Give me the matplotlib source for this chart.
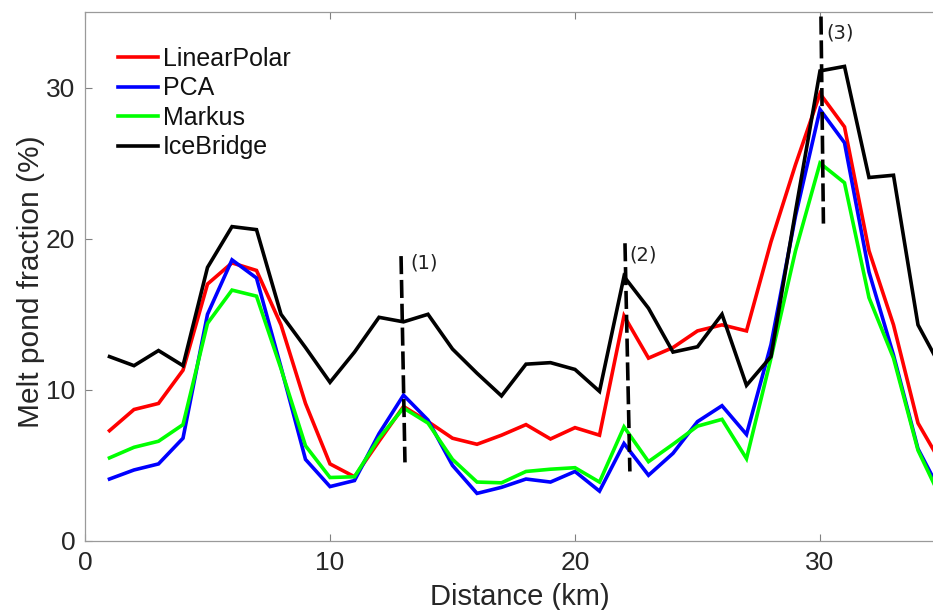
import numpy as np
import matplotlib
matplotlib.use('Agg')
import matplotlib.pyplot as plt

# Distance along the track (km)
distance = list(range(1, 36))

linear_polar = [7.3, 8.7, 9.1, 11.3, 17.0, 18.4, 17.9, 14.3, 9.1, 5.1,
                4.25, 6.6, 8.9, 7.9, 6.8, 6.4, 7.0, 7.7, 6.75, 7.5,
                7.0, 14.9, 12.1, 12.8, 13.9, 14.3, 13.9, 19.8, 24.9, 29.6,
                27.4, 19.2, 14.3, 7.8, 5.0]
pca = [4.1, 4.7, 5.1, 6.8, 15.0, 18.6, 17.4, 11.5, 5.4, 3.6,
       4.0, 7.1, 9.65, 8.0, 5.0, 3.15, 3.55, 4.1, 3.9, 4.6,
       3.3, 6.45, 4.35, 5.8, 7.9, 8.95, 7.05, 13.0, 21.5, 28.55,
       26.35, 17.8, 12.3, 6.1, 3.0]
markus = [5.5, 6.2, 6.6, 7.7, 14.4, 16.6, 16.2, 11.4, 6.3, 4.2,
          4.25, 6.8, 8.8, 7.8, 5.4, 3.9, 3.85, 4.6, 4.75, 4.85,
          3.9, 7.55, 5.25, 6.4, 7.6, 8.05, 5.45, 12.1, 19.2, 25.0,
          23.7, 16.1, 12.1, 6.0, 2.6]
icebridge = [12.2, 11.6, 12.6, 11.6, 18.1, 20.8, 20.6, 15.0, 12.8, 10.5,
             12.5, 14.8, 14.5, 15.0, 12.7, 11.1, 9.6, 11.7, 11.8, 11.35,
             9.9, 17.5, 15.4, 12.5, 12.85, 15.0, 10.3, 12.2, 21.8, 31.1,
             31.4, 24.05, 24.2, 14.3, 11.3]

series_names = ['LinearPolar', 'PCA', 'Markus', 'IceBridge']
series_colors = ['#ff0000', '#0000ff', '#00ff00', '#000000']

# marked events: (x top, x bottom), (y top, y bottom), label
event_labels = ['(1)', '(2)', '(3)']
event_x = [(12.9, 13.06), (22.04, 22.24), (30.04, 30.14)]
event_y = [(18.85, 5.2), (19.7, 4.6), (34.7, 21.0)]
event_text_pos = [(13.3, 18.4), (22.2, 18.9), (30.25, 33.6)]

x_ticks = [0, 10, 20, 30]
y_ticks = [0, 10, 20, 30]

W, H = 933, 610
fig = plt.figure(figsize=(W / 100, H / 100), dpi=100)
ax_left, ax_right, ax_bottom, ax_top = 85, 942.5, 541, 12
ax = fig.add_axes([ax_left / W, 1 - ax_bottom / H,
                   (ax_right - ax_left) / W, (ax_bottom - ax_top) / H])

font = 'Liberation Sans'
text_col = '#262626'

for vals, name, col in zip([linear_polar, pca, markus, icebridge], series_names, series_colors):
    ax.plot(distance, vals, color=col, lw=2.6, label=name, solid_joinstyle='miter')

for (x0, x1), (y0, y1), lab, (tx, ty) in zip(event_x, event_y, event_labels, event_text_pos):
    ax.plot([x0, x1], [y0, y1], color='black', lw=2.6, linestyle=(0, (5, 1.6)))
    ax.text(tx, ty, lab, fontsize=14, family='DejaVu Sans', color='#222222',
            ha='left', va='center')

ax.set_xlim(0, 35)
ax.set_ylim(0, 35)
ax.set_xticks(x_ticks)
ax.set_yticks(y_ticks)
ax.tick_params(direction='in', length=5, width=0.8, color='#808080',
               top=True, right=True, labelsize=19, labelcolor=text_col, pad=7)
for lab in ax.get_xticklabels() + ax.get_yticklabels():
    lab.set_family(font)
for sp in ax.spines.values():
    sp.set_color('#9a9a9a')
    sp.set_linewidth(0.9)

ax.set_xlabel('Distance (km)', fontsize=21, family=font, color=text_col, va='top')
ax.xaxis.set_label_coords(0.507, -0.08)
ax.set_ylabel('Melt pond fraction (%)', fontsize=21.5, family=font, color=text_col)
ax.yaxis.set_label_coords(-0.047, 0.49)

leg = ax.legend(loc='upper left', bbox_to_anchor=(0.0385, 0.934), frameon=False,
                borderaxespad=0, borderpad=0, handlelength=1.6, handletextpad=0.2,
                labelspacing=0.22, prop={'family': font, 'size': 18})
for t in leg.get_texts():
    t.set_color('#111111')

fig.savefig('out.png', dpi=100)
